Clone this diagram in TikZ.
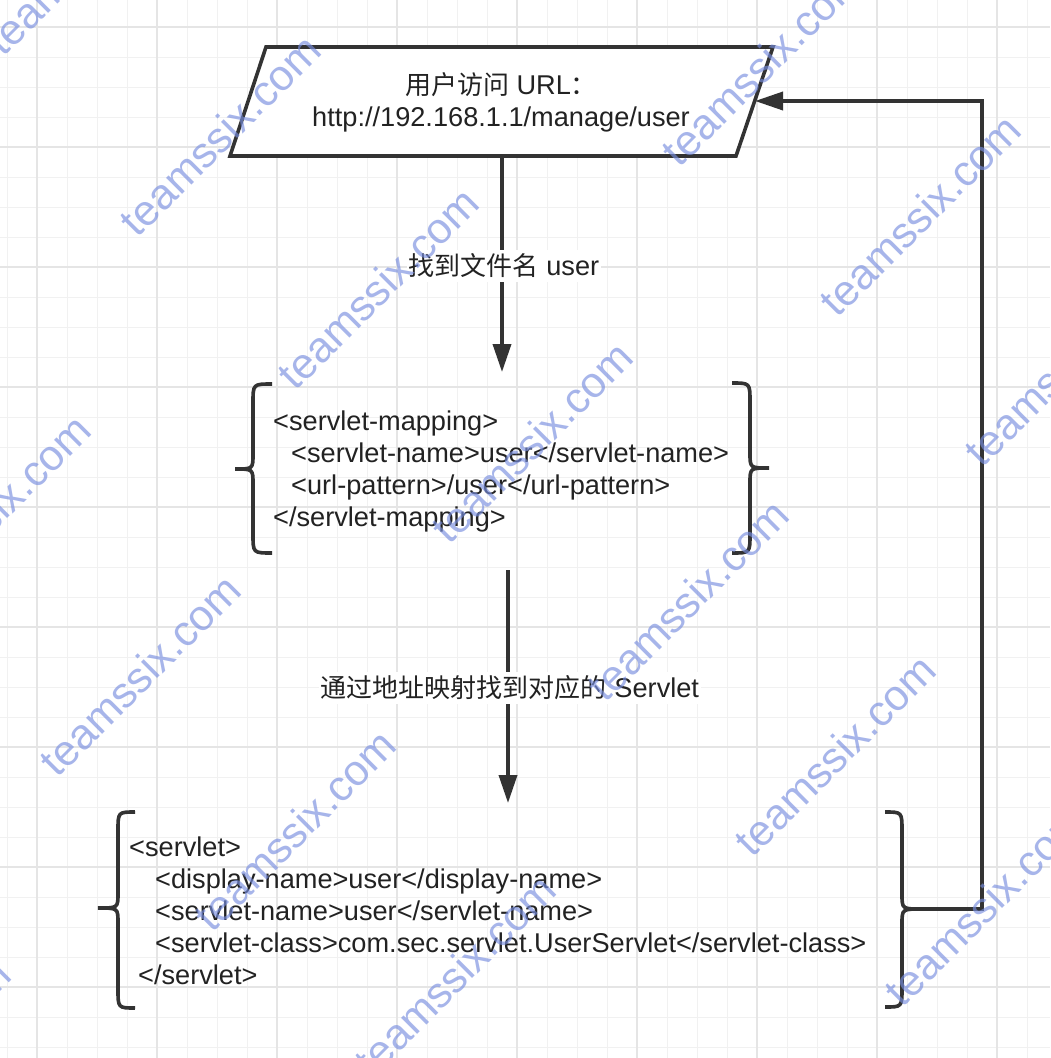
\documentclass[tikz,border=0pt]{standalone}
\usepackage{fontspec}
\setmainfont{Liberation Sans}[Scale=1.045]
\newfontfamily\cjk{Noto Sans CJK SC}
\newfontfamily\wmfont{Liberation Sans}
\usetikzlibrary{arrows.meta}
\definecolor{ink}{HTML}{333333}
\definecolor{txt}{HTML}{222222}
\definecolor{gridminor}{HTML}{F1F1F1}
\definecolor{gridmajor}{HTML}{E5E5E5}
\definecolor{wm}{RGB}{120,142,224}
\tikzset{
  minorline/.style={draw=gridminor, line width=1pt},
  majorline/.style={draw=gridmajor, line width=1.3pt},
  shapeline/.style={draw=ink, line width=3.6pt, fill=white, line join=miter},
  bracestyle/.style={draw=ink, line width=3.6pt, line cap=butt},
  arrowline/.style={draw=ink, line width=3.6pt, -{Triangle[length=28pt,width=18pt]}},
  maintext/.style={text=txt, inner sep=0pt, font=\fontsize{26}{32}\selectfont},
  lbl/.style={maintext, fill=white, inner xsep=2pt, inner ysep=4pt},
  codetext/.style={maintext, align=left},
  wmark/.style={text=wm, opacity=0.65, rotate=45, inner sep=0pt, font=\wmfont\fontsize{43}{43}\selectfont}
}
\newcommand{\bracedraw}[6]{%
  \draw[bracestyle] (#1,#4) .. controls (#2,#4) .. (#2,{#4+19}) -- (#2,{#5-15})
    .. controls (#2,#5) .. (#3,#5) .. controls (#2,#5) .. (#2,{#5+15}) -- (#2,{#6-19})
    .. controls (#2,#6) .. (#1,#6);}
\begin{document}
\begin{tikzpicture}[x=1pt,y=-1pt]
\useasboundingbox (0,0) rectangle (1050,1058);
\begin{scope}
\clip (0,0) rectangle (1050,1058);
\fill[white] (0,0) rectangle (1050,1058);
% grid
\foreach \gx in {7,37,...,1050} \draw[minorline] (\gx,0) -- (\gx,1058);
\foreach \gy in {27,57,...,1058} \draw[minorline] (0,\gy) -- (1050,\gy);
\foreach \gx in {37,157,...,1050} \draw[majorline] (\gx,0) -- (\gx,1058);
\foreach \gy in {27,147,...,1058} \draw[majorline] (0,\gy) -- (1050,\gy);

% parallelogram (input)
\draw[shapeline] (266,47) -- (773,47) -- (736,156) -- (230,156) -- cycle;
\node[maintext, align=center] (url) at (501,102)
  {{\cjk 用户访问} URL{\cjk ：}\\http://192.168.1.1/manage/user};
\coordinate (urlbot) at (502,156);
\coordinate (urlin) at (755,101);

% block 1: servlet-mapping
\bracedraw{272}{253}{235}{384}{469}{553}
\bracedraw{732}{750}{769}{383}{468}{553}
\node[codetext, anchor=west] (map) at (273,471)
  {<servlet-mapping>\\
   \hspace*{18pt}<servlet-name>user</servlet-name>\\
   \hspace*{18pt}<url-pattern>/user</url-pattern>\\
   </servlet-mapping>};
\coordinate (maptop) at (502,372);
\coordinate (mapbot) at (508,570);

% block 2: servlet
\bracedraw{135}{118}{98}{812}{908}{1008}
\bracedraw{885}{902}{922}{812}{909}{1007}
\node[codetext, anchor=west] (srv) at (129,911)
  {<servlet>\\
   \hspace*{26pt}<display-name>user</display-name>\\
   \hspace*{26pt}<servlet-name>user</servlet-name>\\
   \hspace*{26pt}<servlet-class>com.sec.servlet.UserServlet</servlet-class>\\
   \hspace*{9pt}</servlet>};
\coordinate (srvtop) at (508,803);
\coordinate (srvtip) at (922,909);
\coordinate (loopx) at (982,909);

% connectors
\draw[arrowline] (urlbot) -- (maptop);
\draw[arrowline] (mapbot) -- (srvtop);
\draw[arrowline, line join=miter] (srvtip) -- (loopx) |- (urlin);

% labels
\node[lbl] (lab1) at (504,266) {{\cjk 找到文件名} user};
\node[lbl] (lab2) at (510,688) {{\cjk 通过地址映射找到对应的} Servlet};

% watermarks
\foreach \wx/\wy in {220/135, 86/-46, 762/65, 378/288, 532/442, 688/600,
  295/830, 985/905, 920/215, -10/515, 1065/365, 140/675, 835/755, 455/975, -90/1060}
  \node[wmark] at (\wx,\wy) {teamssix.com};
\end{scope}
\end{tikzpicture}
\end{document}
